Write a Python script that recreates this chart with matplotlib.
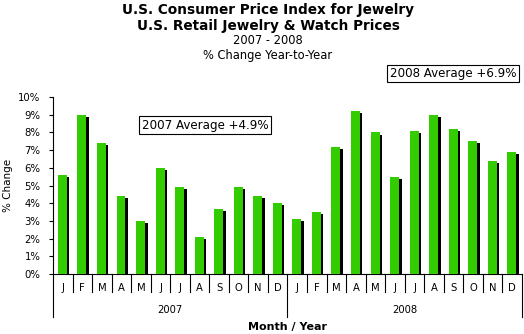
import matplotlib
matplotlib.use("Agg")
import matplotlib.pyplot as plt
from matplotlib.transforms import offset_copy, blended_transform_factory
import numpy as np

months = ["J", "F", "M", "A", "M", "J", "J", "A", "S", "O", "N", "D"]
years = ["2007", "2008"]
values_2007 = [5.6, 9.0, 7.4, 4.4, 3.0, 6.0, 4.9, 2.1, 3.7, 4.9, 4.4, 4.0]
values_2008 = [3.1, 3.5, 7.2, 9.2, 8.0, 5.5, 8.1, 9.0, 8.2, 7.5, 6.4, 6.9]
yticks = list(range(0, 11))
title_lines = ["U.S. Consumer Price Index for Jewelry", "U.S. Retail Jewelry & Watch Prices"]
subtitle_lines = ["2007 - 2008", "% Change Year-to-Year"]
avg_labels = ["2007 Average +4.9%", "2008 Average +6.9%"]

plt.rcParams['font.family'] = ['DejaVu Sans']
W, H = 524, 334
dpi = 100
fig = plt.figure(figsize=(W / dpi, H / dpi), dpi=dpi)
L, R, T, B = 53, 522, 97, 274
ax = fig.add_axes([L / W, (H - B) / H, (R - L) / W, (B - T) / H])

values = values_2007 + values_2008
x = np.arange(len(values))
green = "#33CC00"
bw = 0.46
shadow_tr = offset_copy(ax.transData, fig=fig, x=2.5, y=-2.2, units='dots')
ax.bar(x - 0.02, values, width=bw, color="black", transform=shadow_tr, zorder=2)
ax.bar(x - 0.02, values, width=bw, color=green, zorder=3)

ax.set_xlim(-0.5, len(values) - 0.5)
ax.set_ylim(0, 10)
ax.set_yticks(yticks)
ax.set_yticklabels([f"{t}%" for t in yticks], fontsize=7.3)
ax.tick_params(axis='y', length=3, width=0.8, pad=6, direction='out')
ax.set_xticks([])
for s in ["top", "right"]:
    ax.spines[s].set_visible(False)
ax.spines["left"].set_linewidth(0.8)
ax.spines["bottom"].set_linewidth(0.8)
ax.set_ylabel("% Change", fontsize=7.5, labelpad=4)

# category axis
bt = blended_transform_factory(ax.transData, ax.transAxes)
ax_h = B - T
def frac(px):
    return -px / ax_h
for k in range(len(values) + 1):
    xx = k - 0.5
    if k % 12 == 0:
        ax.plot([xx, xx], [0, frac(43)], color="black", lw=0.8, transform=bt, clip_on=False)
    else:
        ax.plot([xx, xx], [0, frac(18)], color="black", lw=0.8, transform=bt, clip_on=False)
for i in range(len(values)):
    ax.text(i, frac(14), months[i % 12], transform=bt, ha="center", va="center", fontsize=7.2)
for j, yr in enumerate(years):
    ax.text(j * 12 + 5.5, frac(36), yr, transform=bt, ha="center", va="center", fontsize=7.2)
fig.text(288 / W, 1 - 327 / H, "Month / Year", ha="center", va="center", fontsize=8.0, fontweight="bold")

# titles
fig.text(268 / W, 1 - 10 / H, title_lines[0], ha="center", va="center", fontsize=9.8, fontweight="bold")
fig.text(268 / W, 1 - 26 / H, title_lines[1], ha="center", va="center", fontsize=9.8, fontweight="bold")
fig.text(268 / W, 1 - 41 / H, subtitle_lines[0], ha="center", va="center", fontsize=8.3)
fig.text(268 / W, 1 - 55 / H, subtitle_lines[1], ha="center", va="center", fontsize=8.3)

box = dict(boxstyle="square,pad=0.2", fc="white", ec="black", lw=0.8)
fig.text(205 / W, 1 - 125 / H, avg_labels[0], ha="center", va="center", fontsize=8.6, bbox=box)
fig.text(453 / W, 1 - 73.5 / H, avg_labels[1], ha="center", va="center", fontsize=8.6, bbox=box)

fig.savefig("out.png", dpi=dpi)
